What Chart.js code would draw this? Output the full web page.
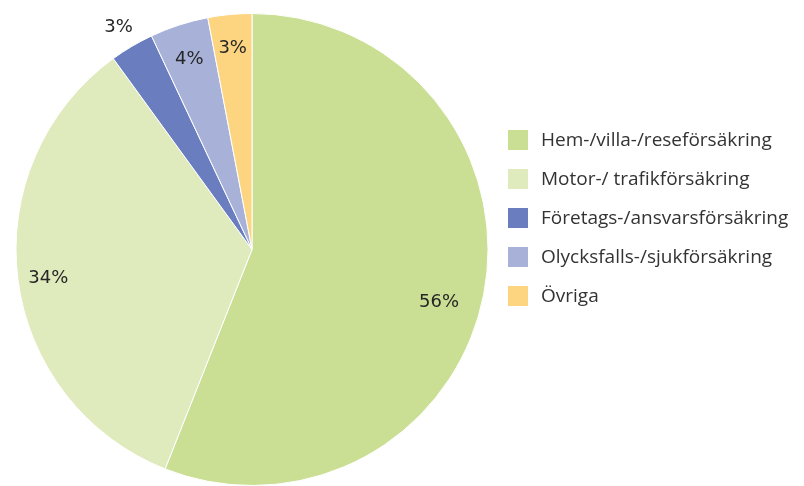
<!DOCTYPE html>
<html>
<head>
<meta charset="utf-8">
<script src="https://cdn.jsdelivr.net/npm/chart.js@4"></script>
<style>
  html, body { margin: 0; padding: 0; background: #fff; }
  #wrap { position: relative; width: 804px; height: 486px; }
</style>
</head>
<body>
<div id="wrap"><canvas id="pie"></canvas></div>
<script>
// ===== Datos =====
const categorias = [
  'Hem-/villa-/reseförsäkring',
  'Motor-/ trafikförsäkring',
  'Företags-/ansvarsförsäkring',
  'Olycksfalls-/sjukförsäkring',
  'Övriga'
];
const andelar = [56, 34, 3, 4, 3];
const etiquetas = ['56%', '34%', '3%', '4%', '3%'];
const colores = ['#cadf94', '#dfeabd', '#6a7dbf', '#a8b2d9', '#fdd581'];
// posición de la etiqueta: fracción del radio y giro (grados) desde el centro del sector
const distEtiqueta = [0.82, 0.87, 1.11, 0.86, 0.87];
const giroEtiqueta = [4, 0, 0, 0, 0];

// ===== Plugin: etiquetas de porcentaje =====
const pctLabels = {
  id: 'pctLabels',
  afterDatasetsDraw(chart) {
    const ctx = chart.ctx;
    const arcs = chart.getDatasetMeta(0).data;
    ctx.save();
    ctx.font = '18px "DejaVu Sans", sans-serif';
    ctx.fillStyle = '#262626';
    ctx.textAlign = 'center';
    ctx.textBaseline = 'middle';
    arcs.forEach((a, i) => {
      const { startAngle, endAngle, outerRadius, x, y } = a.getProps(['startAngle','endAngle','outerRadius','x','y'], true);
      const mid = (startAngle + endAngle) / 2 + giroEtiqueta[i] * Math.PI / 180;
      const r = outerRadius * distEtiqueta[i];
      ctx.fillText(etiquetas[i], x + Math.cos(mid) * r, y + Math.sin(mid) * r + 3);
    });
    ctx.restore();
  }
};

// ===== Plugin: leyenda a la derecha =====
const leyenda = {
  id: 'leyenda',
  afterDraw(chart) {
    const ctx = chart.ctx;
    const x0 = 508, y0 = 140, paso = 39, caja = 20;
    ctx.save();
    ctx.font = '19px "Open Sans", Arial, sans-serif';
    ctx.textBaseline = 'middle';
    ctx.textAlign = 'left';
    chart.data.labels.forEach((lab, i) => {
      const y = y0 + i * paso;
      ctx.fillStyle = chart.data.datasets[0].backgroundColor[i];
      ctx.fillRect(x0, y - caja / 2, caja, caja);
      ctx.fillStyle = '#333333';
      ctx.fillText(lab, x0 + 33, y + 1);
    });
    ctx.restore();
  }
};

new Chart(document.getElementById('pie'), {
  type: 'pie',
  data: {
    labels: categorias,
    datasets: [{
      data: andelar,
      backgroundColor: colores,
      borderColor: '#ffffff',
      borderWidth: 1
    }]
  },
  options: {
    responsive: true,
    maintainAspectRatio: false,
    animation: false,
    layout: { padding: { left: 15, right: 315, top: 13, bottom: 0 } },
    plugins: {
      legend: { display: false },
      tooltip: { enabled: false }
    }
  },
  plugins: [pctLabels, leyenda]
});
</script>
</body>
</html>
